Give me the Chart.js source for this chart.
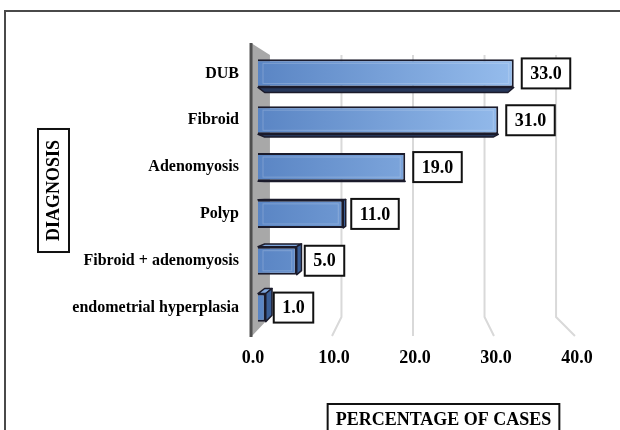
<!DOCTYPE html>
<html>
<head>
<meta charset="utf-8">
<script src="https://cdn.jsdelivr.net/npm/chart.js@4.4.1/dist/chart.umd.min.js"></script>
<style>
  html, body { margin: 0; padding: 0; background: #fff; }
  canvas { display: block; }
</style>
</head>
<body>
<canvas id="diagnosisChart" width="620" height="430"></canvas>
<script>
// chart data
const diagnoses = ["DUB", "Fibroid", "Adenomyosis", "Polyp", "Fibroid + adenomyosis", "endometrial hyperplasia"];
const percentages = [33.0, 31.0, 19.0, 11.0, 5.0, 1.0];
const xTicks = [0, 10, 20, 30, 40];
const yTitle = "DIAGNOSIS";
const xTitle = "PERCENTAGE OF CASES";

const FONT = "'Liberation Serif', 'Times New Roman', serif";
Chart.defaults.font.family = FONT;
Chart.defaults.color = "#000";

// fake 3D helpers: perspective toward a vanishing point
const BACK_K = 0.951;   // depth of bars
const WALL_K = 0.923;   // back wall for gridlines
const FLOOR_K = 1.045;  // front edge of floor

function polygon(c, pts, fill, stroke) {
  c.beginPath();
  c.moveTo(pts[0][0], pts[0][1]);
  for (let i = 1; i < pts.length; i++) c.lineTo(pts[i][0], pts[i][1]);
  c.closePath();
  c.fillStyle = fill;
  c.fill();
  if (stroke) {
    c.strokeStyle = stroke;
    c.stroke();
  }
}

function drawBarDepth(c, l, r, t, b, vx, vy) {
  const px = x => vx + (x - vx) * BACK_K;
  const py = y => vy + (y - vy) * BACK_K;
  const bl = px(l), br = px(r), bt = py(t), bb = py(b);
  c.lineWidth = 1.5;
  c.lineJoin = "round";
  if (vy < t) polygon(c, [[l, t], [r, t], [br, bt], [bl, bt]], "#7ea6dc", "#1b1b2b");
  if (vy > b) polygon(c, [[l, b], [r, b], [br, bb], [bl, bb]], "#26375a", "#1b1b2b");
  if (vx > r) polygon(c, [[r, t], [r, b], [br, bb], [br, bt]], "#3a5e96", "#1b1b2b");
  if (vx < l) polygon(c, [[l, t], [l, b], [bl, bb], [bl, bt]], "#3a5e96", "#1b1b2b");
}

function boxedText(c, text, cx, cy, padX, h, rotate) {
  c.save();
  c.translate(cx, cy);
  if (rotate) c.rotate(-Math.PI / 2);
  const w = c.measureText(text).width + padX * 2;
  c.fillStyle = "#fff";
  c.fillRect(-w / 2, -h / 2, w, h);
  c.lineWidth = 2;
  c.strokeStyle = "#111";
  c.strokeRect(-w / 2, -h / 2, w, h);
  c.fillStyle = "#000";
  c.textAlign = "center";
  c.textBaseline = "middle";
  c.fillText(text, 0, 1);
  c.restore();
}

const perspectivePlugin = {
  id: "perspective",
  beforeDatasetsDraw(chart) {
    const c = chart.ctx;
    const area = chart.chartArea;
    const xs = chart.scales.x;
    const cx = (area.left + area.right) / 2;
    c.save();

    // gridlines on the back wall, bending onto the floor
    c.strokeStyle = "#d9d9d9";
    c.lineWidth = 2;
    xs.ticks.forEach(t => {
      if (t.value === 0) return;
      const p = xs.getPixelForValue(t.value);
      const back = cx + (p - cx) * WALL_K;
      const front = cx + (p - cx) * FLOOR_K;
      c.beginPath();
      c.moveTo(back, area.top + 5);
      c.lineTo(back, area.bottom - 14);
      c.lineTo(front, area.bottom + 5);
      c.stroke();
    });

    // side wall at zero
    const z = xs.getPixelForValue(0);
    const wallFront = cx + (z - cx) * FLOOR_K;
    const wallBack = cx + (z - cx) * WALL_K;
    polygon(c, [[wallFront, area.top - 7], [wallBack, area.top + 5],
                [wallBack, area.bottom - 14], [wallFront, area.bottom + 6]], "#a8a8a8");
    c.strokeStyle = "#4f4f4f";
    c.lineWidth = 3;
    c.beginPath();
    c.moveTo(wallFront, area.top - 7);
    c.lineTo(wallFront, area.bottom + 6);
    c.stroke();

    // bar depth faces
    const vx = xs.getPixelForValue(17.5);
    const vy = (area.top + area.bottom) / 2;
    chart.getDatasetMeta(0).data.forEach(bar => {
      const p = bar.getProps(["x", "y", "base", "height"], true);
      drawBarDepth(c, Math.min(p.base, p.x), Math.max(p.base, p.x),
                   p.y - p.height / 2, p.y + p.height / 2, vx, vy);
    });
    c.restore();
  },
  afterDatasetsDraw(chart) {
    const c = chart.ctx;
    c.save();
    const meta = chart.getDatasetMeta(0);
    meta.data.forEach((bar, i) => {
      const p = bar.getProps(["x", "y", "base", "height"], true);
      const l = Math.min(p.base, p.x), r = Math.max(p.base, p.x);
      // bevel highlight
      if (r - l > 14) {
        c.strokeStyle = "rgba(255,255,255,0.2)";
        c.lineWidth = 1;
        c.strokeRect(l + 5, p.y - p.height / 2 + 4, r - l - 10, p.height - 8);
      }
      // value box
      c.font = "bold 18px " + FONT;
      const text = percentages[i].toFixed(1);
      const w = c.measureText(text).width + 17;
      boxedText(c, text, r + 8 + w / 2, p.y, 8.5, 30, false);
    });
    c.restore();
  },
  afterDraw(chart) {
    const c = chart.ctx;
    const area = chart.chartArea;
    const xs = chart.scales.x;
    const cx = (area.left + area.right) / 2;
    c.save();
    c.font = "bold 18px " + FONT;

    // x tick labels sit on the front edge of the floor
    c.fillStyle = "#000";
    c.textAlign = "center";
    c.textBaseline = "middle";
    xs.ticks.forEach(t => {
      const p = xs.getPixelForValue(t.value);
      c.fillText(Number(t.value).toFixed(1), cx + (p - cx) * FLOOR_K + 2, area.bottom + 27);
    });

    boxedText(c, yTitle, 53.5, 190.5, 11, 31, true);
    boxedText(c, xTitle, 443.5, 419, 8, 30, false);
    // outer frame (left and top edges visible)
    c.strokeStyle = "#4a4a4a";
    c.lineWidth = 2;
    c.beginPath();
    c.moveTo(5, 430);
    c.lineTo(5, 11);
    c.lineTo(620, 11);
    c.stroke();
    c.restore();
  }
};

new Chart(document.getElementById("diagnosisChart").getContext("2d"), {
  type: "bar",
  data: {
    labels: diagnoses,
    datasets: [{
      data: percentages,
      backgroundColor: ctx => {
        const area = ctx.chart.chartArea;
        if (!area) return "#6a95cf";
        const g = ctx.chart.ctx.createLinearGradient(area.left, 0, area.right, 0);
        g.addColorStop(0, "#5a85c4");
        g.addColorStop(1, "#a2c8f5");
        return g;
      },
      borderColor: "#1b1b2b",
      borderWidth: 2,
      barPercentage: 1,
      categoryPercentage: 0.6
    }]
  },
  options: {
    indexAxis: "y",
    responsive: false,
    animation: false,
    layout: { padding: { top: 50, right: 52, bottom: 0, left: 0 } },
    plugins: {
      legend: { display: false },
      tooltip: { enabled: false }
    },
    scales: {
      x: {
        min: xTicks[0],
        max: xTicks[xTicks.length - 1],
        grid: { display: false, drawTicks: false },
        border: { display: false },
        afterFit: s => { s.height = 99; },
        ticks: {
          display: false,
          stepSize: xTicks[1] - xTicks[0]
        }
      },
      y: {
        grid: { display: false, drawTicks: false },
        border: { display: false },
        afterFit: s => { s.width = 258; },
        ticks: {
          padding: 19,
          font: { size: 16, weight: "bold" }
        }
      }
    }
  },
  plugins: [perspectivePlugin]
});
</script>
</body>
</html>
